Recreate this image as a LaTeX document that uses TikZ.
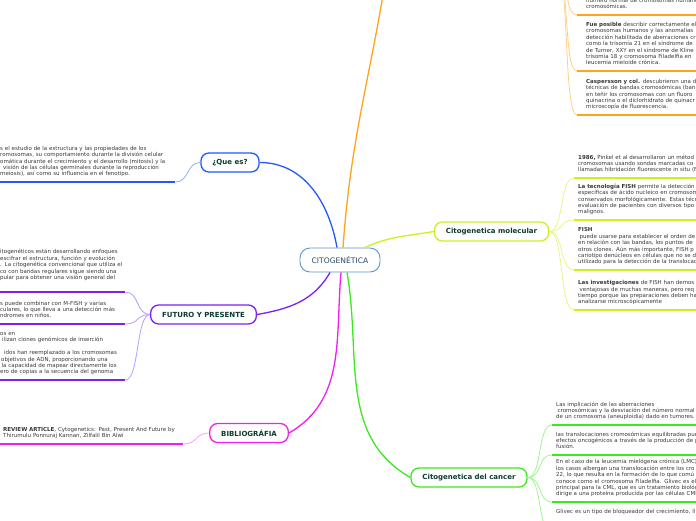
\documentclass[tikz,border=0pt]{standalone}
\usepackage{fontspec}
\setmainfont{DejaVu Sans}
\definecolor{CoreLine}{HTML}{5B96D2}
\definecolor{CoreInk}{HTML}{2E4A66}
\definecolor{TopicInk}{HTML}{0C3B2D}
\definecolor{Ink}{HTML}{383838}
\definecolor{QueBlue}{HTML}{2458FF}
\definecolor{QueSoft}{HTML}{93ABFF}
\definecolor{HistOrange}{HTML}{FFA41B}
\definecolor{HistSoft}{HTML}{FFD08A}
\definecolor{MolLime}{HTML}{CCF022}
\definecolor{MolSoft}{HTML}{E3F88A}
\definecolor{FutPurple}{HTML}{7B22F2}
\definecolor{FutSoft}{HTML}{B99BFA}
\definecolor{BibMagenta}{HTML}{F01EF0}
\definecolor{BibSoft}{HTML}{FBA0FB}
\definecolor{CanGreen}{HTML}{3DE81F}
\definecolor{CanSoft}{HTML}{A2F294}
\tikzset{
  core/.style={draw=CoreLine,fill=white,line width=.9pt,rounded corners=10pt,minimum width=80pt,minimum height=24pt,font=\fontsize{7.6}{9}\selectfont,text=CoreInk},
  topic/.style={fill=white,line width=1.3pt,rounded corners=8pt,minimum height=19pt,inner xsep=11.5pt,font=\fontsize{7}{8}\selectfont\bfseries,text=TopicInk},
  leaf/.style={font=\fontsize{5.5}{6.4}\selectfont,text=Ink,align=left,inner xsep=0pt,inner ysep=4pt,anchor=south west,execute at begin node=\strut,execute at end node=\strut},
  rightleaf/.style={leaf,text width=140pt},
  branch/.style={line width=1.3pt},
  twig/.style={line width=.8pt},
  leafrule/.style={line width=1.6pt}
}
\begin{document}
\begin{tikzpicture}[x=1pt,y=-1pt]
  \useasboundingbox (0,0) rectangle (696,520);
  \clip (0,0) rectangle (696,520);
  % centre and main topics
  \node[core] (cito) at (340,260) {CITOGENÉTICA};
  \node[topic,draw=QueBlue] (que) at (230,162.5) {¿Que es?};
  \node[topic,draw=FutPurple] (fut) at (203.5,314.5) {FUTURO Y PRESENTE};
  \node[topic,draw=BibMagenta] (bib) at (249,433) {BIBLIOGRÁFIA};
  \node[topic,draw=MolLime] (mol) at (491.5,231.5) {Citogenetica molecular};
  \node[topic,draw=CanGreen] (can) at (469,477.5) {Citogenetica del cancer};
  % the orange topic sits above the page
  \coordinate (histw) at (390,-50);
  \coordinate (histe) at (556,-30);

  \draw[branch,QueBlue] (que.east) to[out=0,in=100] ([xshift=-3pt]cito.north);
  \draw[branch,HistOrange] ([xshift=3pt]cito.north) to[out=86,in=-98] (histw);
  \draw[branch,MolLime] ([xshift=25pt]cito.north) to[out=25,in=190] (mol.west);
  \draw[branch,FutPurple] ([xshift=-10pt]cito.south) to[out=-120,in=10] (fut.east);
  \draw[branch,BibMagenta] ([xshift=1pt]cito.south) to[out=-95,in=30] (bib.east);
  \draw[branch,CanGreen] ([xshift=7pt]cito.south) to[out=-80,in=150] (can.west);

  % left side
  \node[leaf,text width=175pt] (queTxt) at (0,182) {s el estudio de la estructura y las propiedades de los\\
romosomas, su comportamiento durante la división celular\\
omática durante el crecimiento y el desarrollo (mitosis) y la\\
\hspace*{3pt}visión de las células germinales durante la reproducción\\
meiosis), así como su influencia en el fenotipo.};
  \node[leaf,text width=125pt] (futA) at (0,292) {itogenéticos están desarrollando enfoques\\
escifrar el estructura, función y evolución\\
. La citogenética convencional que utiliza el\\
co con bandas regulares sigue siendo una\\
pular para obtener una visión general del\\
\mbox{}};
  \node[leaf,text width=125pt] (futB) at (0,324) {s puede combinar con M-FISH y varias\\
culares, lo que lleva a una detección más\\
ndromes en niños.};
  \node[leaf,text width=125pt] (futC) at (0,380) {os en\\
\hspace*{2pt}ilizan clones genómicos de inserción\\
\mbox{}\\
\hspace*{4pt}idos han reemplazado a los cromosomas\\
\hspace*{1pt}objetivos de ADN, proporcionando una\\
\hspace*{1.5pt}la capacidad de mapear directamente los\\
ero de copias a la secuencia del genoma};
  \node[leaf,text width=183pt] (bibTxt) at (0,444) {\hspace*{3pt}\textbf{REVIEW ARTICLE}, Cytogenetics: Past, Present And Future by\\
\hspace*{3pt}Thirumulu Ponnuraj Kannan, Zilfalil Bin Alwi};

  % right side
  \node[rightleaf] (hisA) at (586,15) {número normal de cromosomas humanos\\
cromosómicas.};
  \node[rightleaf] (hisB) at (586,71) {\textbf{Fue posible} describir correctamente el\\
cromosomas humanos y las anomalías\\
detección habilitada de aberraciones cr\\
como la trisomía 21 en el síndrome de\\
de Turner, XXY en el síndrome de Kline\\
trisomía 18 y cromosoma Filadelfia en\\
leucemia mieloide crónica.};
  \node[rightleaf] (hisC) at (586,115) {\textbf{Caspersson y col.} descubrieron una d\\
técnicas de bandas cromosómicas (ban\\
en teñir los cromosomas con un fluoro\\
quinacrina o el diclorhidrato de quinacr\\
microscopía de fluorescencia.};
  \node[rightleaf] (molA) at (578,178) {\textbf{1986,} Pinkel et al desarrollaron un métod\\
cromosomas usando sondas marcadas co\\
llamadas hibridación fluorescente in situ (F};
  \node[rightleaf] (molB) at (578,220) {\textbf{La tecnología FISH} permite la detección\\
específicas de ácido nucleico en cromosom\\
conservados morfológicamente. Estas técn\\
evaluación de pacientes con diversos tipo\\
malignos.};
  \node[rightleaf] (molC) at (578,270) {\textbf{FISH}\\
\hspace*{1.5pt}puede usarse para establecer el orden de\\
en relación con las bandas, los puntos de\\
otros clones. Aún más importante, FISH p\\
cariotipo denúcleos en células que no se d\\
utilizado para la detección de la translocac};
  \node[rightleaf] (molD) at (578,310) {\textbf{Las investigaciones} de FISH han demos\\
\hspace*{1.5pt}ventajosas de muchas maneras, pero req\\
tiempo porque las preparaciones deben ha\\
analizarse microscópicamente};
  \node[rightleaf,text width=160pt] (canA) at (556,425) {Las implicación de las aberraciones\\
\hspace*{1.5pt}cromosómicas y la desviación del número normal\\
de un cromosoma (aneuploidía) dado en tumores.};
  \node[rightleaf,text width=160pt] (canB) at (556,455) {las translocaciones cromosómicas equilibradas pue\\
efectos oncogénicos a través de la producción de p\\
fusión.};
  \node[rightleaf,text width=160pt] (canC) at (556,502) {En el caso de la leucemia mielógena crónica (LMC)\\
los casos albergan una translocación entre los cro\\
22, lo que resulta en la formación de lo que comú\\
conoce como el cromosoma Filadelfia. Glivec es el\\
principal para la CML, que es un tratamiento biológ\\
dirige a una proteína producida por las células CML};
  \node[rightleaf,text width=160pt,anchor=north west] (canD) at (556,505) {Glivec es un tipo de bloqueador del crecimiento, ll\\
\mbox{}\\
\mbox{}};

  % twigs and rules
  \draw[twig,QueSoft] (que.west) .. controls +(-14,0) and +(14,0) .. (queTxt.south east);
  \draw[leafrule,QueBlue] (queTxt.south west) -- (queTxt.south east);
  \foreach \leaf in {futA,futB,futC}{
    \draw[twig,FutSoft] (fut.west) .. controls +(-14,0) and +(14,0) .. (\leaf.south east);
    \draw[leafrule,FutPurple] (\leaf.south west) -- (\leaf.south east);
  }
  \draw[twig,BibSoft] (bib.west) .. controls +(-14,0) and +(14,0) .. (bibTxt.south east);
  \draw[leafrule,BibMagenta] (bibTxt.south west) -- (bibTxt.south east);
  \foreach \leaf in {hisA,hisB,hisC}{
    \draw[twig,HistSoft] (histe) .. controls +(14,0) and +(-14,0) .. ([xshift=-9pt]\leaf.south west);
    \draw[leafrule,HistOrange] ([xshift=-9pt]\leaf.south west) -- (\leaf.south east);
  }
  \foreach \leaf in {molA,molB,molC,molD}{
    \draw[twig,MolSoft] (mol.east) .. controls +(15,0) and +(-15,0) .. ([xshift=-4pt]\leaf.south west);
    \draw[leafrule,MolLime] ([xshift=-4pt]\leaf.south west) -- (\leaf.south east);
  }
  \foreach \leaf in {canA,canB,canC,canD}{
    \draw[twig,CanSoft] (can.east) .. controls +(15,0) and +(-15,0) .. ([xshift=-4pt]\leaf.south west);
    \draw[leafrule,CanGreen] ([xshift=-4pt]\leaf.south west) -- (\leaf.south east);
  }
\end{tikzpicture}
\end{document}
